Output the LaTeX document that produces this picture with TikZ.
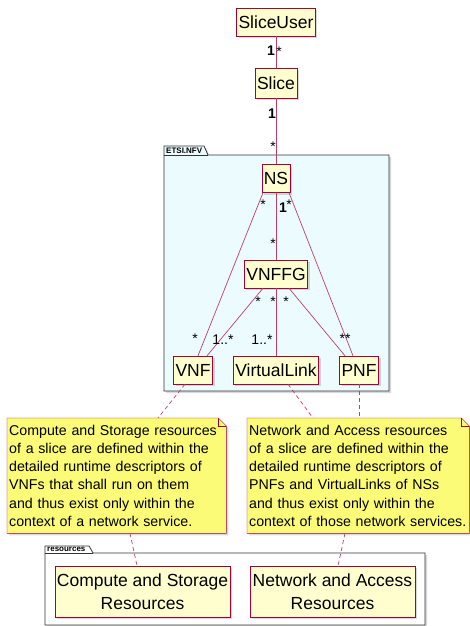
\documentclass[tikz,border=0pt]{standalone}
\usepackage{fontspec}
\setmainfont{Liberation Sans}
\usetikzlibrary{shadows,backgrounds}

\definecolor{umlred}{HTML}{A80036}
\definecolor{clsfill}{HTML}{FEFECE}
\definecolor{notefill}{HTML}{FBFB77}
\definecolor{pkgfill}{HTML}{EBFBFE}
\hyphenpenalty=10000

\begin{document}
\begin{tikzpicture}[x=1pt,y=-1pt,
  boxshadow/.style={drop shadow={shadow xshift=2pt,shadow yshift=-2pt,opacity=.3}},
  cls/.style={draw=umlred,fill=clsfill,boxshadow,inner xsep=2pt,inner ysep=0pt,
    minimum height=28pt,font=\fontsize{17.5}{22}\selectfont},
  res/.style={cls,minimum height=51pt,align=center,font=\fontsize{17.5}{23}\selectfont},
  note/.style={text width=#1,inner xsep=2pt,inner ysep=3pt,minimum height=115pt,
    align=left,font=\fontsize{14.2}{18.2}\selectfont},
  pkg/.style={draw=black!80,line width=.8pt,boxshadow},
  tab/.style={font=\fontsize{8}{8}\bfseries\selectfont,anchor=west,inner sep=1pt},
  assoc/.style={draw=umlred!75,line width=.7pt},
  link/.style={assoc,dash pattern=on 4pt off 3pt},
  mult/.style={font=\fontsize{14}{14}\selectfont,inner sep=0pt}]
\useasboundingbox (0,0) rectangle (470,626);

\draw[pkg,fill=pkgfill] (164,391) -- (164,146) -- (204,146) -- (208,155) -- (389,155) -- (389,391) -- cycle;
\draw[draw=black!80,line width=.8pt] (164,155) -- (208,155);
\node[tab] (nfvtab) at (165,150.5) {ETSI.NFV};

\draw[pkg,fill=white] (45,625) -- (45,546) -- (89,546) -- (93,553) -- (425,553) -- (425,625) -- cycle;
\draw[draw=black!80,line width=.8pt] (45,553) -- (93,553);
\node[tab] (restab) at (46,549.5) {resources};

\node[cls] (user) at (276,22) {SliceUser};
\node[cls,minimum height=30pt] (slice) at (276,83) {Slice};
\node[cls] (ns) at (276,178.5) {NS};
\node[cls] (vnffg) at (276,274) {VNFFG};
\node[cls] (vnf) at (193,370) {VNF};
\node[cls] (vlink) at (276,370) {VirtualLink};
\node[cls] (pnf) at (359,370) {PNF};

\node[res,minimum width=175pt] (compute) at (142.5,591.5) {Compute and Storage\\Resources};
\node[res,minimum width=165pt] (network) at (332.5,591.5) {Network and Access\\Resources};

\node[note=215pt,anchor=north west] (cnote) at (7,418) {Compute and Storage resources\\
  of a slice are defined within the\\ detailed runtime descriptors of\\
  VNFs that shall run on them\\ and thus exist only within the\\ context of a network service.};
\node[note=218pt,anchor=north west] (nnote) at (247,418) {Network and Access resources\\
  of a slice are defined within the\\ detailed runtime descriptors of\\
  PNFs and VirtualLinks of NSs\\ and thus exist only within the\\ context of those network services.};

\begin{scope}[on background layer]
\foreach \n in {cnote,nnote} {
  \draw[draw=umlred,fill=notefill,boxshadow] (\n.south west) |- ([xshift=-8pt]\n.north east)
    -- ([yshift=-8pt]\n.north east) -- (\n.south east) -- cycle;
  \draw[draw=umlred] ([xshift=-8pt]\n.north east) |- ([yshift=-8pt]\n.north east);
}
\end{scope}

\draw[assoc] (user) -- (slice);
\draw[assoc] (slice) -- (ns);
\draw[assoc] (ns) -- (vnffg);
\draw[assoc] (vnffg) -- (vlink);
\draw[assoc] ([xshift=-13pt]ns.south) -- ([xshift=5pt]vnf.north);
\draw[assoc] ([xshift=13pt]ns.south) -- ([xshift=-6pt]pnf.north);
\draw[assoc] ([xshift=-13pt]vnffg.south) -- ([xshift=14pt]vnf.north);
\draw[assoc] ([xshift=13pt]vnffg.south) -- ([xshift=-14pt]pnf.north);

\draw[link] ([xshift=-8pt]vnf.south) -- ([xshift=151pt]cnote.north west);
\draw[link] ([xshift=12pt]vlink.south) -- ([xshift=66pt]nnote.north west);
\draw[link] (pnf.south) -- (pnf.south |- nnote.north);
\draw[link] ([xshift=123pt]cnote.south west) -- ([xshift=-5.5pt]compute.north);
\draw[link] ([xshift=98pt]nnote.south west) -- ([xshift=5.5pt]network.north);

\node[mult] (m1) at (271,51) {\textbf{1}};
\node[mult] (m2) at (279,52) {*};
\node[mult] (m3) at (272,114) {\textbf{1}};
\node[mult] (m4) at (273,147) {*};
\node[mult] (m5) at (263,205) {*};
\node[mult] (m6) at (283,208) {\textbf{1}};
\node[mult] (m7) at (289,205) {*};
\node[mult] (m8) at (273,244) {*};
\node[mult] (m9) at (258,302) {*};
\node[mult] (m10) at (273,302) {*};
\node[mult] (m11) at (286,302) {*};
\node[mult] (m12) at (195,339) {*};
\node[mult] (m13) at (223,340) {1..*};
\node[mult] (m14) at (262,340) {1..*};
\node[mult] (m15) at (345,339) {**};
\end{tikzpicture}
\end{document}
